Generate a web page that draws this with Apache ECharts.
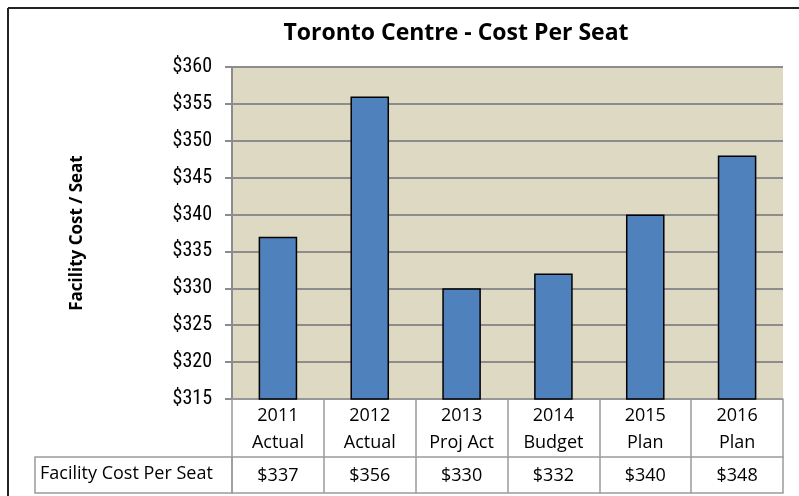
<!DOCTYPE html>
<html>
<head>
<meta charset="utf-8">
<script src="https://cdn.jsdelivr.net/npm/echarts@6/dist/echarts.min.js"></script>
<style>
  html, body { margin: 0; padding: 0; background: #fff; }
  #main { width: 799px; height: 496px; }
</style>
</head>
<body>
<div id="main"></div>
<script>
(function () {
    'use strict';

    // data
    var years = ['2011', '2012', '2013', '2014', '2015', '2016'];
    var stages = ['Actual', 'Actual', 'Proj Act', 'Budget', 'Plan', 'Plan'];
    var costPerSeat = [337, 356, 330, 332, 340, 348];
    var yTicks = { min: 315, max: 360, step: 5 };

    var categories = years.map(function (y, i) { return y + '\n' + stages[i]; });
    var valueLabels = costPerSeat.map(function (v) { return '$' + v; });

    var tableFont = '"Open Sans", Lato, sans-serif';
    var tickFont = '"Liberation Sans Narrow", "Roboto Condensed", Roboto, sans-serif';
    var lineGray = '#9a9a9a';

    var myChart = echarts.init(document.getElementById('main'));

    var option = {
        animation: false,
        title: {
            text: 'Toronto Centre - Cost Per Seat',
            left: 451,
            top: 17,
            textAlign: 'center',
            textStyle: { fontFamily: tableFont, fontWeight: 'bold', fontSize: 23, color: '#000' }
        },
        grid: {
            left: 232, right: 16, top: 67, bottom: 97,
            show: true, backgroundColor: '#DDD9C3', borderWidth: 0
        },
        xAxis: [
            {
                type: 'category',
                data: categories,
                axisLine: { lineStyle: { color: lineGray, width: 1.5 } },
                axisTick: { show: true, length: 94, interval: 0, lineStyle: { color: lineGray, width: 1.5 } },
                axisLabel: {
                    interval: 0, margin: 3, lineHeight: 27,
                    fontFamily: tableFont, fontSize: 18, color: '#000'
                }
            },
            {
                type: 'category',
                data: valueLabels,
                position: 'bottom',
                offset: 58,
                axisLine: { lineStyle: { color: lineGray, width: 1.5 } },
                axisTick: { show: false },
                axisLabel: {
                    interval: 0, margin: 1, lineHeight: 36,
                    fontFamily: tableFont, fontSize: 18, color: '#000'
                }
            },
            {
                type: 'category',
                data: valueLabels,
                position: 'bottom',
                offset: 94,
                axisLine: { lineStyle: { color: lineGray, width: 1.5 } },
                axisTick: { show: false },
                axisLabel: { show: false }
            }
        ],
        yAxis: {
            type: 'value',
            min: yTicks.min,
            max: yTicks.max,
            interval: yTicks.step,
            name: 'Facility Cost / Seat',
            nameLocation: 'middle',
            nameGap: 146,
            nameRotate: 90,
            nameTextStyle: { fontFamily: tableFont, fontWeight: 'bold', fontSize: 17, color: '#000' },
            axisLine: { show: true, lineStyle: { color: '#8c8c8c', width: 2 } },
            axisTick: { show: true, length: 7, lineStyle: { color: '#8c8c8c', width: 2 } },
            axisLabel: {
                margin: 20,
                fontFamily: tickFont, fontSize: 20, color: '#000',
                formatter: function (v) { return '$' + v; }
            },
            splitLine: { lineStyle: { color: '#8c8c8c', width: 2 } }
        },
        series: [
            {
                type: 'bar',
                data: costPerSeat,
                barWidth: '42%',
                itemStyle: { color: '#4F81BD', borderColor: '#000', borderWidth: 1.5 }
            }
        ],
        graphic: [
            {
                type: 'line',
                shape: { x1: 8, y1: 8, x2: 799, y2: 8 },
                style: { stroke: '#222', lineWidth: 2 }
            },
            {
                type: 'line',
                shape: { x1: 8, y1: 8, x2: 8, y2: 496 },
                style: { stroke: '#222', lineWidth: 2 }
            },
            {
                type: 'rect',
                shape: { x: 35, y: 457, width: 197, height: 36 },
                style: { fill: '#fff', stroke: lineGray, lineWidth: 1.5 }
            },
            {
                type: 'text',
                left: 40,
                top: 465,
                style: { text: 'Facility Cost Per Seat', fontFamily: tableFont, fontSize: 18, fill: '#000' }
            }
        ]
    };

    myChart.setOption(option, true);
}());
</script>
</body>
</html>
